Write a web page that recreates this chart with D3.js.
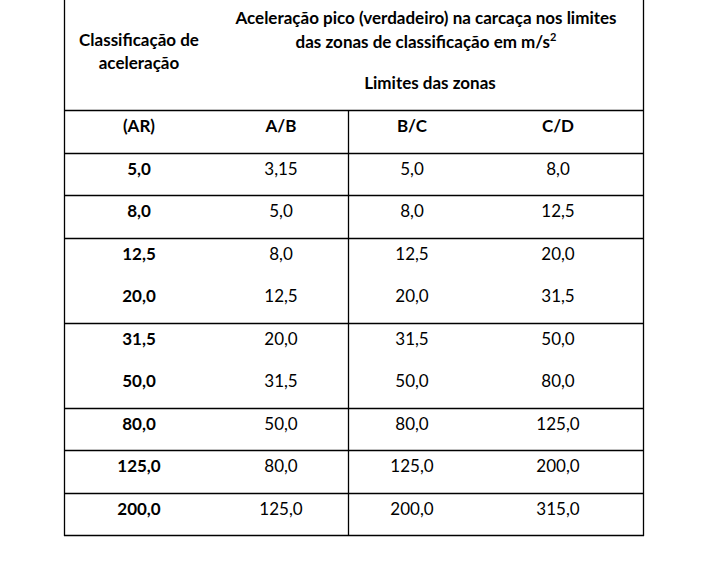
<!DOCTYPE html>
<html>
<head>
<meta charset="utf-8">
<script src="https://cdn.jsdelivr.net/npm/d3@7"></script>
<style>
  html, body { margin: 0; padding: 0; background: #fff; }
  svg text { font-family: Lato, "Open Sans", sans-serif; fill: #000; }
</style>
</head>
<body>
<svg id="chart" width="709" height="574"></svg>
<script>
// ---- data ----
const columns = ["(AR)", "A/B", "B/C", "C/D"];
const arClasses = [5.0, 8.0, 12.5, 20.0, 31.5, 50.0, 80.0, 125.0, 200.0];
const limitAB = [3.15, 5.0, 8.0, 12.5, 20.0, 31.5, 50.0, 80.0, 125.0];
const limitBC = [5.0, 8.0, 12.5, 20.0, 31.5, 50.0, 80.0, 125.0, 200.0];
const limitCD = [8.0, 12.5, 20.0, 31.5, 50.0, 80.0, 125.0, 200.0, 315.0];
// rows sharing one cell (no rule between them)
const rowGroups = [[0], [1], [2, 3], [4, 5], [6], [7], [8]];
const headerLeft = ["Classificação de", "aceleração"];
const headerMain = ["Aceleração pico (verdadeiro) na carcaça nos limites", "das zonas de classificação em m/s"];
const headerSub = "Limites das zonas";

// ---- layout ----
const svg = d3.select("#chart");
const tLeft = 64, tRight = 643, tTop = 0, headBottom = 110, tBottom = 535;
const midLineX = 348;

const rowKeys = ["head"].concat(arClasses.map((d, i) => "r" + i));
const y = d3.scaleBand().domain(rowKeys).range([headBottom, tBottom]).padding(0);
const x = d3.scaleOrdinal().domain(columns).range([139, 281, 412, 558]);

const fmt = v => {
  const s = (Math.round(v * 100) % 10 !== 0) ? v.toFixed(2) : v.toFixed(1);
  return s.replace(".", ",");
};

const g = svg.append("g");

// ---- rules ----
const hLines = [headBottom, y("head") + y.bandwidth()];
rowGroups.forEach(grp => {
  const last = grp[grp.length - 1];
  hLines.push(y("r" + last) + y.bandwidth());
});
g.selectAll("line.h").data(hLines).join("line")
  .attr("class", "h")
  .attr("x1", tLeft).attr("x2", tRight + 1)
  .attr("y1", d => Math.round(d) + 0.5).attr("y2", d => Math.round(d) + 0.5)
  .attr("stroke", "#000").attr("stroke-width", 1.3);

g.selectAll("line.v").data([
  {x: tLeft, y1: tTop, y2: tBottom},
  {x: tRight, y1: tTop, y2: tBottom},
  {x: midLineX, y1: headBottom, y2: tBottom}
]).join("line")
  .attr("class", "v")
  .attr("x1", d => d.x + 0.5).attr("x2", d => d.x + 0.5)
  .attr("y1", d => d.y1).attr("y2", d => Math.round(d.y2) + 1)
  .attr("stroke", "#000").attr("stroke-width", 1.3);

// ---- header text ----
const fs = 17;
g.selectAll("text.hl").data(headerLeft).join("text")
  .attr("class", "hl")
  .attr("x", x("(AR)")).attr("y", (d, i) => 46 + i * 23)
  .attr("text-anchor", "middle").attr("font-weight", "bold").attr("font-size", fs)
  .text(d => d);

const hm = g.selectAll("text.hm").data(headerMain).join("text")
  .attr("class", "hm")
  .attr("x", 426).attr("y", (d, i) => 24 + i * 24)
  .attr("text-anchor", "middle").attr("font-weight", "bold").attr("font-size", fs)
  .text(d => d);
hm.filter((d, i) => i === 1).append("tspan")
  .attr("dy", -7).attr("font-size", 11).text("2");

g.append("text")
  .attr("x", 430).attr("y", 89)
  .attr("text-anchor", "middle").attr("font-weight", "bold").attr("font-size", fs)
  .text(headerSub);

// column header row
g.selectAll("text.ch").data(columns).join("text")
  .attr("class", "ch")
  .attr("x", d => x(d)).attr("y", y("head") + y.bandwidth() / 2 + 1)
  .attr("text-anchor", "middle").attr("font-weight", "bold").attr("font-size", fs)
  .text(d => d);

// ---- body ----
const rows = arClasses.map((ar, i) => ({key: "r" + i, cells: [
  {col: "(AR)", v: ar, bold: true},
  {col: "A/B", v: limitAB[i]},
  {col: "B/C", v: limitBC[i]},
  {col: "C/D", v: limitCD[i]}
]}));

const rg = g.selectAll("g.row").data(rows).join("g").attr("class", "row")
  .attr("transform", d => `translate(0,${y(d.key) + y.bandwidth() / 2 + 1})`);
rg.selectAll("text").data(d => d.cells).join("text")
  .attr("x", d => x(d.col))
  .attr("text-anchor", "middle").attr("font-size", fs)
  .attr("font-weight", d => d.bold ? "bold" : "normal")
  .text(d => fmt(d.v));
</script>
</body>
</html>
